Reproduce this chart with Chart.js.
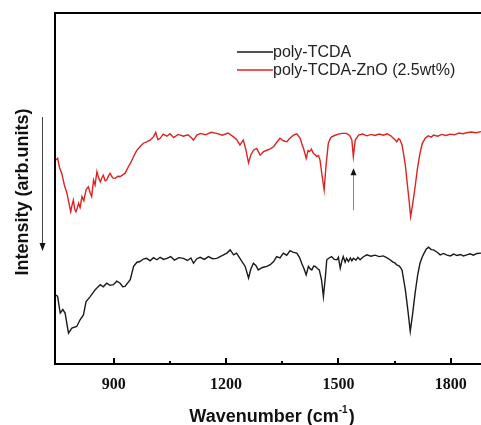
<!DOCTYPE html>
<html>
<head>
<meta charset="utf-8">
<script src="https://cdn.jsdelivr.net/npm/chart.js@4.4.0/dist/chart.umd.min.js"></script>
<style>
  body { margin: 0; background: #fff; }
  #wrap { width: 481px; height: 425px; position: relative; }
</style>
</head>
<body>
<div id="wrap"><canvas id="ftir-chart"></canvas></div>
<script>
// FTIR spectra, values (arbitrary intensity units)
const seriesLabels = ['poly-TCDA', 'poly-TCDA-ZnO (2.5wt%)'];
const seriesColors = ['#1a1a1a', '#dd2222'];

const blackWavenumber = [746, 750, 757, 764, 770, 779, 788, 801, 810, 819, 826, 837, 850, 857, 864, 872, 881, 890, 899, 908, 917, 924, 930, 944, 953, 962, 970, 979, 988, 997, 1006, 1015, 1024, 1033, 1042, 1052, 1062, 1074, 1086, 1097, 1106, 1113, 1122, 1131, 1142, 1153, 1164, 1175, 1188, 1202, 1211, 1220, 1228, 1237, 1251, 1260, 1266, 1273, 1280, 1286, 1297, 1309, 1318, 1327, 1335, 1344, 1353, 1362, 1371, 1380, 1389, 1396, 1402, 1408, 1414, 1420, 1425, 1429, 1434, 1438, 1444, 1449, 1455, 1460, 1465, 1469, 1475, 1482, 1489, 1496, 1500, 1505, 1509, 1513, 1518, 1522, 1527, 1532, 1536, 1540, 1547, 1552, 1558, 1566, 1576, 1587, 1598, 1609, 1620, 1629, 1638, 1645, 1651, 1656, 1663, 1670, 1679, 1686, 1692, 1698, 1705, 1712, 1718, 1724, 1729, 1735, 1741, 1748, 1754, 1763, 1772, 1781, 1790, 1799, 1808, 1817, 1826, 1834, 1843, 1852, 1861, 1870, 1881];
const blackIntensity = [19.7, 19.2, 14.5, 15.5, 14.5, 8.8, 10.2, 10.7, 12.6, 14.0, 17.8, 19.2, 21.1, 21.9, 22.6, 22.0, 23.0, 22.4, 22.6, 23.6, 23.0, 22.0, 22.1, 24.0, 27.8, 29.0, 29.2, 29.9, 30.1, 29.4, 30.3, 29.7, 30.4, 29.8, 30.1, 30.6, 29.6, 30.3, 30.1, 29.5, 30.2, 28.7, 30.0, 30.4, 29.8, 30.6, 30.0, 30.1, 30.8, 31.6, 32.5, 31.1, 31.6, 30.1, 27.8, 24.5, 27.0, 28.7, 28.0, 26.8, 27.5, 27.8, 28.3, 29.2, 30.6, 30.2, 31.6, 31.0, 32.3, 31.8, 31.6, 30.4, 28.7, 27.2, 25.4, 27.8, 27.1, 26.8, 27.9, 27.8, 27.2, 26.8, 24.0, 19.2, 24.5, 29.7, 30.2, 30.6, 29.8, 29.7, 30.4, 27.3, 29.2, 30.6, 29.0, 30.1, 29.2, 30.2, 29.4, 30.1, 29.6, 30.4, 29.7, 30.5, 31.1, 30.7, 31.0, 30.6, 30.8, 30.3, 29.7, 29.1, 28.8, 28.2, 27.9, 26.8, 21.1, 15.0, 9.3, 14.0, 20.2, 25.5, 28.7, 30.5, 31.6, 32.8, 33.3, 32.6, 32.5, 31.9, 31.1, 31.5, 31.0, 30.8, 31.3, 30.9, 31.2, 30.8, 31.1, 31.4, 31.0, 31.5, 31.6];

const redWavenumber = [746, 750, 755, 761, 768, 775, 780, 785, 789, 792, 796, 799, 802, 806, 810, 815, 820, 826, 832, 837, 841, 846, 850, 855, 859, 864, 868, 872, 877, 881, 886, 890, 897, 904, 911, 917, 924, 930, 939, 946, 953, 961, 970, 979, 988, 997, 1006, 1012, 1018, 1024, 1032, 1042, 1050, 1060, 1072, 1086, 1098, 1106, 1113, 1122, 1131, 1145, 1160, 1175, 1190, 1205, 1220, 1228, 1237, 1246, 1253, 1260, 1266, 1273, 1282, 1291, 1300, 1309, 1318, 1327, 1335, 1344, 1353, 1362, 1371, 1380, 1389, 1398, 1403, 1407, 1414, 1419, 1423, 1428, 1433, 1438, 1442, 1447, 1451, 1456, 1462, 1467, 1473, 1478, 1482, 1490, 1500, 1510, 1522, 1530, 1536, 1540, 1545, 1554, 1565, 1576, 1587, 1598, 1609, 1620, 1630, 1640, 1647, 1652, 1656, 1661, 1665, 1670, 1674, 1679, 1683, 1688, 1693, 1699, 1705, 1711, 1718, 1724, 1732, 1740, 1748, 1754, 1765, 1776, 1787, 1799, 1810, 1822, 1833, 1843, 1855, 1868, 1881];
const redIntensity = [58.1, 58.6, 56.0, 54.3, 51.0, 48.6, 46.0, 43.4, 45.5, 46.7, 44.0, 43.4, 44.3, 45.8, 44.6, 47.7, 46.5, 49.6, 50.5, 48.8, 47.7, 52.4, 51.0, 54.8, 53.2, 51.9, 53.0, 53.8, 52.2, 52.4, 53.6, 54.3, 53.0, 52.9, 53.5, 53.4, 53.9, 54.3, 56.2, 57.5, 59.1, 60.8, 61.9, 62.9, 63.3, 63.8, 64.7, 66.0, 63.9, 64.3, 65.5, 64.9, 65.6, 64.5, 65.4, 64.9, 65.3, 64.6, 63.8, 65.2, 65.7, 65.3, 66.0, 65.7, 65.2, 65.8, 64.7, 64.0, 62.4, 63.8, 61.0, 57.3, 59.5, 60.9, 61.4, 59.5, 60.5, 60.9, 61.3, 61.9, 63.1, 64.3, 63.6, 63.3, 64.4, 65.2, 65.6, 64.3, 62.5, 61.4, 58.6, 60.8, 60.5, 61.2, 60.0, 59.6, 59.1, 59.4, 58.1, 54.0, 49.6, 56.5, 62.8, 64.2, 64.7, 65.1, 65.5, 65.7, 65.7, 65.1, 63.8, 59.1, 63.8, 65.2, 65.5, 65.0, 65.4, 65.1, 65.5, 65.2, 65.6, 65.0, 64.3, 63.8, 63.3, 64.2, 63.8, 62.4, 60.0, 56.5, 52.4, 47.5, 42.0, 46.0, 50.5, 55.5, 60.0, 62.8, 64.3, 65.0, 64.6, 65.2, 64.9, 65.4, 65.1, 65.5, 65.3, 65.8, 65.6, 65.9, 66.1, 65.9, 66.2];

const xTickValues = [900, 1200, 1500, 1800];
const xMinorTicks = [1050, 1350, 1650];

function toPoints(xs, ys) {
  return xs.map((x, i) => ({ x: x, y: ys[i] }));
}

// frame, inward ticks, axis titles, arrows and legend
const decorations = {
  id: 'decorations',
  afterDraw(chart) {
    const ctx = chart.ctx;
    const area = chart.chartArea;
    const xs = chart.scales.x;
    const ys = chart.scales.y;
    ctx.save();

    // frame (right side is cut off in the original)
    ctx.strokeStyle = '#000';
    ctx.lineWidth = 2;
    ctx.beginPath();
    ctx.moveTo(area.right, area.top);
    ctx.lineTo(area.left, area.top);
    ctx.lineTo(area.left, area.bottom);
    ctx.lineTo(area.right, area.bottom);
    ctx.stroke();

    // ticks point inward
    ctx.beginPath();
    xTickValues.forEach(v => {
      const px = Math.round(xs.getPixelForValue(v));
      ctx.moveTo(px, area.bottom);
      ctx.lineTo(px, area.bottom - 6);
    });
    xMinorTicks.forEach(v => {
      const px = Math.round(xs.getPixelForValue(v));
      ctx.moveTo(px, area.bottom);
      ctx.lineTo(px, area.bottom - 3);
    });
    ctx.stroke();

    // x title with superscript
    ctx.fillStyle = '#111';
    ctx.textBaseline = 'alphabetic';
    const mainFont = 'bold 18px "Liberation Sans", Arial, sans-serif';
    const supFont = 'bold 10px "Liberation Sans", Arial, sans-serif';
    const partA = 'Wavenumber (cm';
    const partB = '-1';
    const partC = ')';
    ctx.font = mainFont;
    const wA = ctx.measureText(partA).width;
    const wC = ctx.measureText(partC).width;
    ctx.font = supFont;
    const wB = ctx.measureText(partB).width;
    const total = wA + wB + wC + 1;
    let tx = 272 - total / 2;
    const ty = 422;
    ctx.font = mainFont;
    ctx.textAlign = 'left';
    ctx.fillText(partA, tx, ty);
    ctx.font = supFont;
    ctx.fillText(partB, tx + wA, ty - 9);
    ctx.font = mainFont;
    ctx.fillText(partC, tx + wA + wB + 1, ty);

    // y title
    ctx.save();
    ctx.translate(23, 192);
    ctx.rotate(-Math.PI / 2);
    ctx.font = mainFont;
    ctx.textAlign = 'center';
    ctx.textBaseline = 'middle';
    ctx.fillText('Intensity (arb.units)', 0, 0);
    ctx.restore();

    // arrow beside y title
    ctx.strokeStyle = '#444';
    ctx.lineWidth = 1;
    ctx.beginPath();
    ctx.moveTo(42.5, 117);
    ctx.lineTo(42.5, 244);
    ctx.stroke();
    ctx.fillStyle = '#111';
    ctx.beginPath();
    ctx.moveTo(39.5, 243);
    ctx.lineTo(45.5, 243);
    ctx.lineTo(42.5, 251);
    ctx.closePath();
    ctx.fill();

    // arrow marking the 1540 band
    const ax = Math.round(xs.getPixelForValue(1540)) + 0.5;
    const aBottom = ys.getPixelForValue(43.8);
    const aTop = ys.getPixelForValue(55.8);
    ctx.strokeStyle = '#888';
    ctx.beginPath();
    ctx.moveTo(ax, aBottom);
    ctx.lineTo(ax, aTop + 6);
    ctx.stroke();
    ctx.fillStyle = '#111';
    ctx.beginPath();
    ctx.moveTo(ax - 3, aTop + 7);
    ctx.lineTo(ax + 3, aTop + 7);
    ctx.lineTo(ax, aTop);
    ctx.closePath();
    ctx.fill();

    // legend
    ctx.font = '16px "Liberation Sans", Arial, sans-serif';
    ctx.textAlign = 'left';
    ctx.textBaseline = 'middle';
    chart.data.datasets.forEach((ds, i) => {
      const ly = 52 + i * 18;
      ctx.strokeStyle = ds.borderColor;
      ctx.lineWidth = 1.3;
      ctx.beginPath();
      ctx.moveTo(237, ly);
      ctx.lineTo(273, ly);
      ctx.stroke();
      ctx.fillStyle = '#222';
      ctx.fillText(ds.label, 273, ly + 1);
    });

    ctx.restore();
  }
};

const ctx = document.getElementById('ftir-chart').getContext('2d');
const ftirChart = new Chart(ctx, {
  type: 'line',
  data: {
    datasets: [
      {
        label: seriesLabels[0],
        data: toPoints(blackWavenumber, blackIntensity),
        borderColor: seriesColors[0],
        borderWidth: 1.4,
        pointRadius: 0,
        tension: 0
      },
      {
        label: seriesLabels[1],
        data: toPoints(redWavenumber, redIntensity),
        borderColor: seriesColors[1],
        borderWidth: 1.4,
        pointRadius: 0,
        tension: 0
      }
    ]
  },
  options: {
    responsive: true,
    maintainAspectRatio: false,
    animation: false,
    layout: { padding: { left: 55, top: 13, right: 0, bottom: 0 } },
    plugins: {
      legend: { display: false },
      tooltip: { enabled: false }
    },
    scales: {
      x: {
        type: 'linear',
        min: 743,
        max: 1881,
        grid: { display: false },
        border: { display: false },
        afterBuildTicks: scale => {
          scale.ticks = xTickValues.map(v => ({ value: v }));
        },
        afterFit: scale => {
          scale.height = 61;
        },
        ticks: {
          padding: 3,
          color: '#111',
          maxRotation: 0,
          callback: v => String(v),
          font: { family: '"Liberation Serif", "Times New Roman", serif', weight: 'bold', size: 16 }
        }
      },
      y: {
        display: false,
        min: 0,
        max: 100
      }
    }
  },
  plugins: [decorations]
});
</script>
</body>
</html>
